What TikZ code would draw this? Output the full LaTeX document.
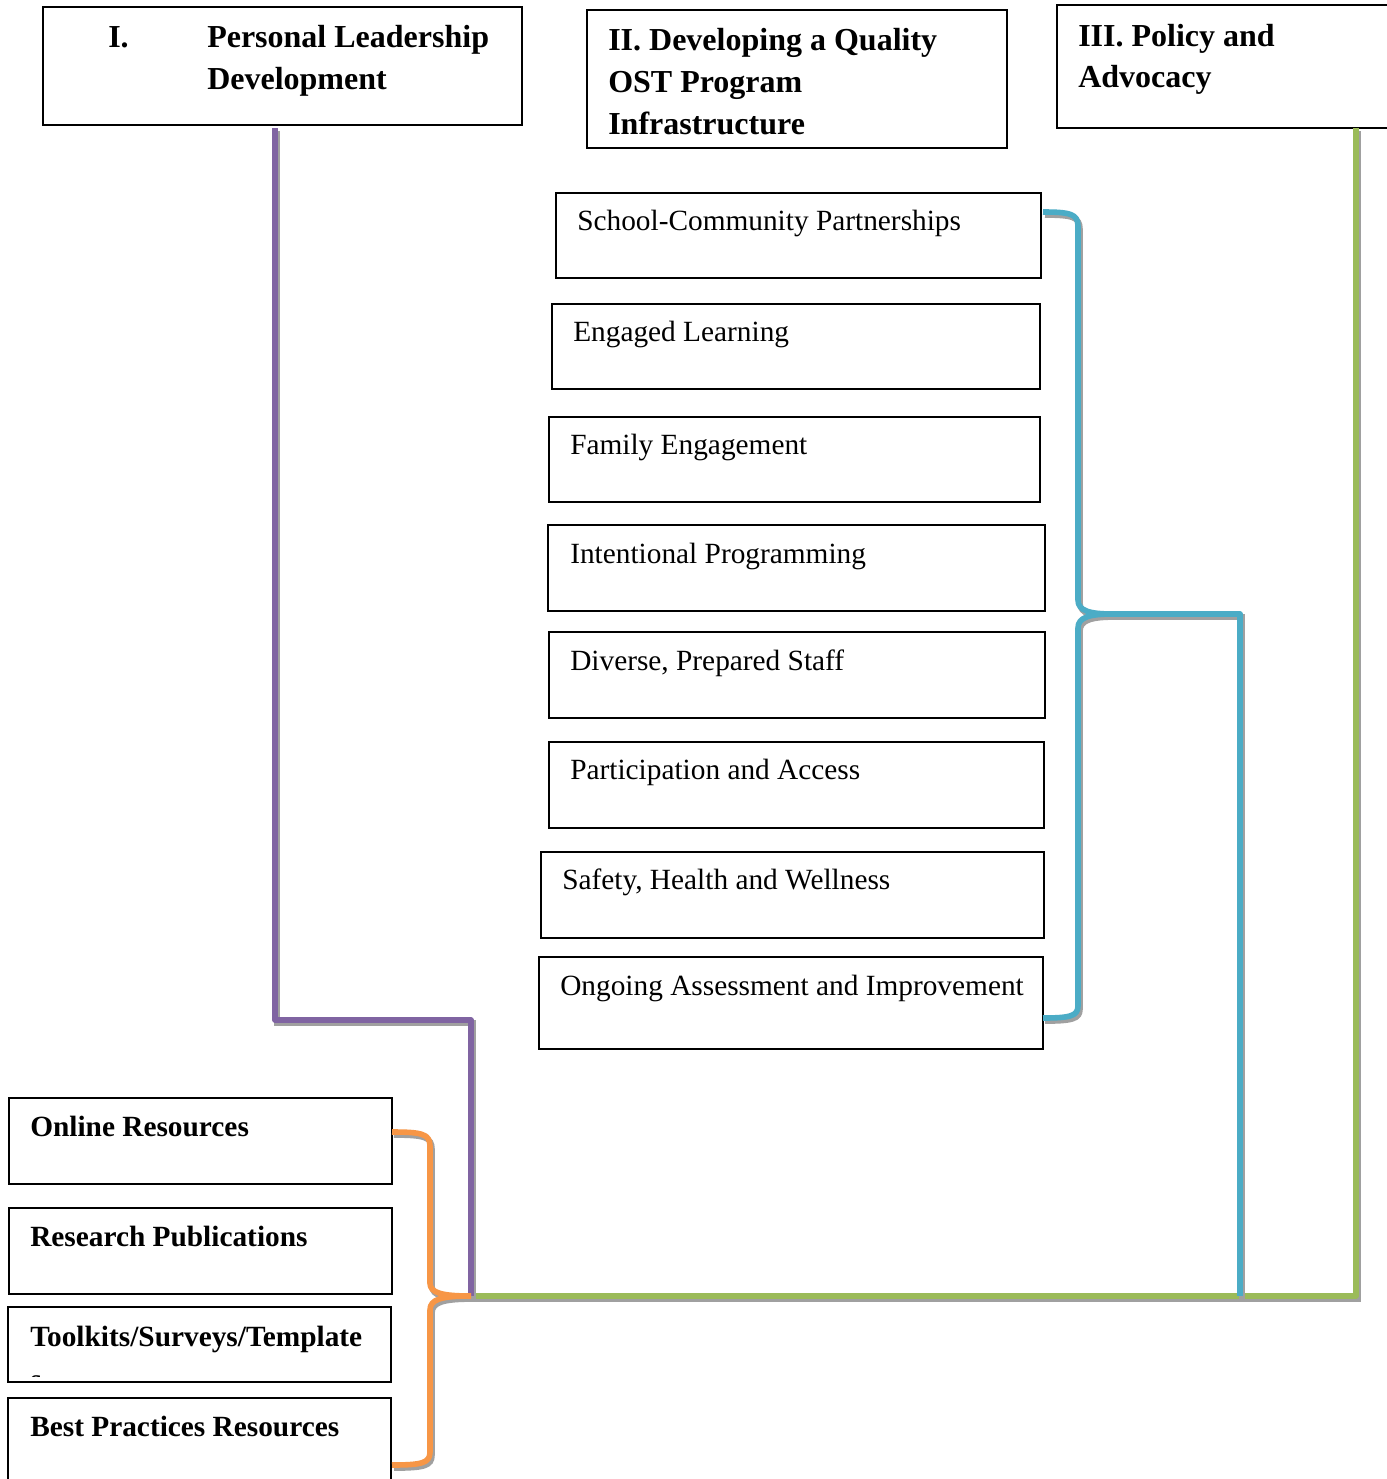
\documentclass[tikz,border=0pt]{standalone}
\usepackage{fontspec}
\setmainfont{Liberation Serif}
\usetikzlibrary{fit}
\definecolor{cpurple}{HTML}{8064A2}
\definecolor{cgreen}{HTML}{9BBB59}
\definecolor{ccyan}{HTML}{4BACC6}
\definecolor{corange}{HTML}{F79646}
\definecolor{cshadow}{HTML}{A0A0A0}
\begin{document}
\begin{tikzpicture}[x=0.75pt,y=-0.75pt,
  box/.style={draw=black, line width=1.1pt, inner sep=0pt},
  head/.style={font=\fontsize{24}{30}\selectfont\bfseries, anchor=base west, inner sep=0pt},
  item/.style={font=\fontsize{22}{28}\selectfont, anchor=base west, inner sep=0pt},
  res/.style={font=\fontsize{22}{28}\selectfont\bfseries, anchor=base west, inner sep=0pt},
  conn/.style={line width=4.2pt, line join=round,
    preaction={draw=cshadow, line width=4.2pt, transform canvas={shift={(1.5pt,-2.3pt)}}}},
]
\useasboundingbox[fill=white] (0,0) rectangle (1387,1479);

% ---- header boxes
\node[box, fit={(43,7) (522,125)}] (bI) {};
\node[head] (hIa) at (108,47) {I.};
\node[head] (hIb) at (207,47) {Personal Leadership};
\node[head] (hIc) at (207,89) {Development};

\node[box, fit={(587,10) (1007,148)}] (bII) {};
\node[head] (hIIa) at (608,50) {II. Developing a Quality};
\node[head] (hIIb) at (608,92) {OST Program};
\node[head] (hIIc) at (608,134) {Infrastructure};

\node[box, fit={(1057,5) (1400,128)}] (bIII) {};
\node[head] (hIIIa) at (1078,46) {III. Policy and};
\node[head] (hIIIb) at (1078,87) {Advocacy};

% ---- section II items
\node[box, fit={(556,193) (1041,278)}] (s1) {};
\node[item] (t1) at (577,230) {School-Community Partnerships};
\node[box, fit={(552,304) (1040,389)}] (s2) {};
\node[item] (t2) at (573,341) {Engaged Learning};
\node[box, fit={(549,417) (1040,502)}] (s3) {};
\node[item] (t3) at (570,454) {Family Engagement};
\node[box, fit={(548,525) (1045,611)}] (s4) {};
\node[item] (t4) at (570,563) {Intentional Programming};
\node[box, fit={(549,632) (1045,718)}] (s5) {};
\node[item] (t5) at (570,670) {Diverse, Prepared Staff};
\node[box, fit={(549,742) (1044,828)}] (s6) {};
\node[item] (t6) at (570,779) {Participation and Access};
\node[box, fit={(541,852) (1044,938)}] (s7) {};
\node[item] (t7) at (562,889) {Safety, Health and Wellness};
\node[box, fit={(539,957) (1043,1049)}] (s8) {};
\node[item] (t8) at (560,995) {Ongoing Assessment and Improvement};

% ---- resources
\node[box, fit={(9,1098) (392,1184)}] (r1) {};
\node[res] (u1) at (30,1136) {Online Resources};
\node[box, fit={(9,1208) (392,1294)}] (r2) {};
\node[res] (u2) at (30,1246) {Research Publications};
\node[box, fit={(8,1307) (391,1382)}] (r3) {};
\node[res] (u3) at (30,1346) {Toolkits/Surveys/Template};
\begin{scope}
  \clip (8,1307) rectangle (391,1376);
  \node[res] (u3s) at (30,1389) {s};
\end{scope}
\node[box, fit={(8,1398) (391,1490)}] (r4) {};
\node[res] (u4) at (30,1436) {Best Practices Resources};

% ---- connector coordinates
\coordinate (pTop) at (275,128);
\coordinate (pBend) at (275,1020);
\coordinate (pBend2) at (471,1020);
\coordinate (hub) at (471,1296);
\coordinate (gTop) at (1356,128);
\coordinate (gBend) at (1356,1296);
\coordinate (cTip) at (1113,614);
\coordinate (cBend) at (1240,614);
\coordinate (cFoot) at (1240,1296);
\coordinate (cA) at (1043,212);
\coordinate (cB) at (1043,1018);
\coordinate (oA) at (392,1132);
\coordinate (oB) at (392,1465);

% ---- green (III)
\draw[conn, cgreen] (gTop) -- (gBend) -- (hub);
% ---- cyan (II)
\draw[conn, ccyan] (cA) .. controls (1070,212) and (1078,214) .. (1078,226) -- (1078,600)
  .. controls (1078,611) and (1090,614) .. (cTip);
\draw[conn, ccyan] (cTip) .. controls (1090,614) and (1078,617) .. (1078,628) -- (1078,1006)
  .. controls (1078,1016) and (1070,1018) .. (cB);
\draw[conn, ccyan] (cTip) -- (cBend) -- (cFoot);
% ---- purple (I)
\draw[conn, cpurple] (pTop) -- (pBend) -- (pBend2) -- (hub);
% ---- orange (resources)
\draw[conn, corange] (oA) .. controls (422,1132) and (430,1134) .. (430,1146) -- (430,1283)
  .. controls (430,1293) and (442,1296) .. (hub);
\draw[conn, corange] (hub) .. controls (442,1296) and (430,1299) .. (430,1310) -- (430,1452)
  .. controls (430,1463) and (422,1465) .. (oB);
\end{tikzpicture}
\end{document}
